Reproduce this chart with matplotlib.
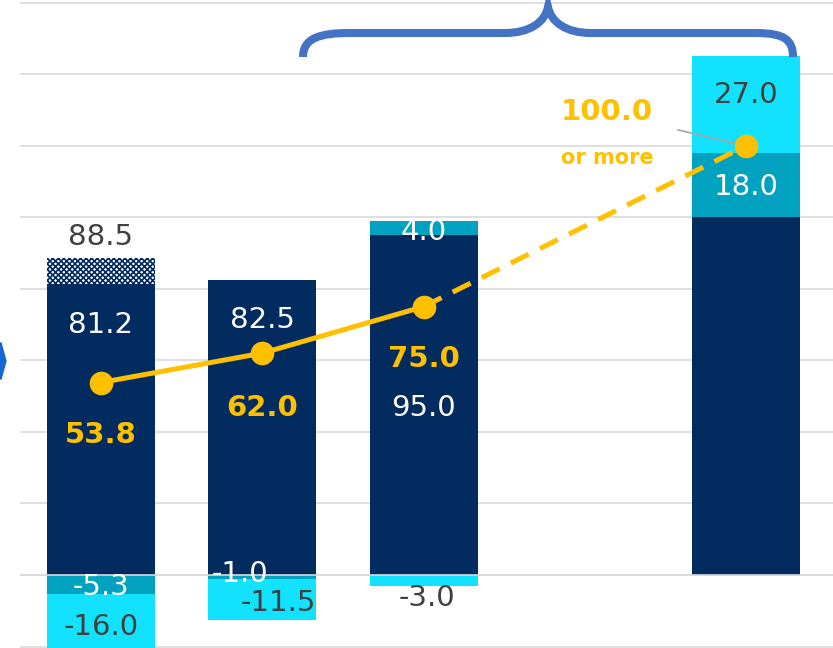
import matplotlib.pyplot as plt
import matplotlib.patches as mpatches
from matplotlib.path import Path
import numpy as np

# data
x_pos = [0, 1, 2, 4]
navy_vals = [81.2, 82.5, 95.0, 100.0]
hatch_vals = [7.3, 0, 0, 0]          # 81.2 -> 88.5
teal_pos = [0, 0, 4.0, 18.0]
cyan_pos = [0, 0, 0, 27.0]
teal_neg = [-5.3, -1.0, 0, 0]
cyan_neg = [-16.0, -11.5, -3.0, 0]
line_x = [0, 1, 2, 4]
line_vals = [53.8, 62.0, 75.0, 120.0]
line_labels = ["53.8", "62.0", "75.0", "100.0"]

NAVY = "#022b5f"
TEAL = "#00a2bf"
CYAN = "#12e2fe"
GOLD = "#ffc000"
GRAY = "#404040"

plt.rcParams["hatch.linewidth"] = 1.2
plt.rcParams["hatch.color"] = NAVY

fig = plt.figure(figsize=(8.33, 6.48), dpi=100)
ax = fig.add_axes([20 / 833, 0, 813 / 833, 1])
ax.set_xlim(-0.502, 4.538)
ax.set_ylim(-20.4, 160.7)
for s in ax.spines.values():
    s.set_visible(False)
ax.set_xticks([])
ax.set_yticks([])

for g in range(-20, 161, 20):
    ax.axhline(g, color="#d9d9d9", lw=1.2, zorder=0)

w = 0.67
ax.bar(x_pos, navy_vals, w, color=NAVY, zorder=2)
ax.bar(x_pos, hatch_vals, w, bottom=navy_vals, facecolor="white",
       edgecolor=NAVY, hatch="xxxxxx", lw=0, zorder=2)
ax.bar(x_pos, teal_pos, w, bottom=navy_vals, color=TEAL, zorder=2)
ax.bar(x_pos, cyan_pos, w, bottom=np.add(navy_vals, teal_pos), color=CYAN, zorder=2)
ax.bar(x_pos, teal_neg, w, color=TEAL, zorder=2)
ax.bar(x_pos, cyan_neg, w, bottom=teal_neg, color=CYAN, zorder=2)
ax.axhline(0, color="#d9d9d9", lw=1.2, zorder=3)

# line: solid then dashed
ax.plot(line_x[:3], line_vals[:3], color=GOLD, lw=3.6, zorder=4)
ax.plot(line_x[2:], line_vals[2:], color=GOLD, lw=3.6, ls=(0, (4, 2.5)), zorder=4)
ax.plot(line_x, line_vals, "o", color=GOLD, ms=16, zorder=5)

fs = 21
def lab(x, y, t, c, bold=False, size=fs):
    ax.text(x, y, t, ha="center", va="center", color=c, fontsize=size,
            fontweight="bold" if bold else "normal", zorder=6)

lab(0, 94.5, "88.5", GRAY)
lab(0, 69.9, "81.2", "white")
lab(0, -3.4, "-5.3", "white")
lab(0, -14.5, "-16.0", GRAY)
lab(1, 71.3, "82.5", "white")
lab(0.862, 0.2, "-1.0", "white")
lab(1.10, -7.8, "-11.5", GRAY)
lab(2, 96.0, "4.0", "white")
lab(2, 46.7, "95.0", "white")
lab(2.02, -6.4, "-3.0", GRAY)
lab(4, 134.2, "27.0", GRAY)
lab(4, 108.4, "18.0", "white")

lab(0, 39.1, line_labels[0], GOLD, bold=True)
lab(1, 46.7, line_labels[1], GOLD, bold=True)
lab(2, 60.4, line_labels[2], GOLD, bold=True)
lab(3.137, 129.4, line_labels[3], GOLD, bold=True)
lab(3.137, 116.5, "or more", GOLD, bold=True, size=15)
ax.plot([3.577, 3.99], [124.4, 120.0], color="#a6a6a6", lw=1.2, zorder=4)

# brace (figure pixel coords)
def fp(x, y):
    return (x / 833, 1 - y / 648)

verts = [fp(303, 57), fp(303, 38), fp(320, 33), fp(350, 33),
         fp(505, 33),
         fp(530, 33), fp(545, 22), fp(548, 7),
         fp(551, 22), fp(566, 33), fp(591, 33),
         fp(755, 33),
         fp(785, 33), fp(793, 40), fp(793, 57)]
codes = [Path.MOVETO, Path.CURVE4, Path.CURVE4, Path.CURVE4,
         Path.LINETO,
         Path.CURVE4, Path.CURVE4, Path.CURVE4,
         Path.CURVE4, Path.CURVE4, Path.CURVE4,
         Path.LINETO,
         Path.CURVE4, Path.CURVE4, Path.CURVE4]
brace = mpatches.PathPatch(Path(verts, codes), facecolor="none",
                           edgecolor="#4472c4", lw=5.8, capstyle="butt",
                           transform=fig.transFigure)
fig.add_artist(brace)

chev = mpatches.Polygon([fp(0, 343), fp(1, 343), fp(6, 361), fp(1, 379), fp(0, 379)],
                        closed=True, color="#1667d6", transform=fig.transFigure)
fig.add_artist(chev)

fig.savefig("out.png", dpi=100)
